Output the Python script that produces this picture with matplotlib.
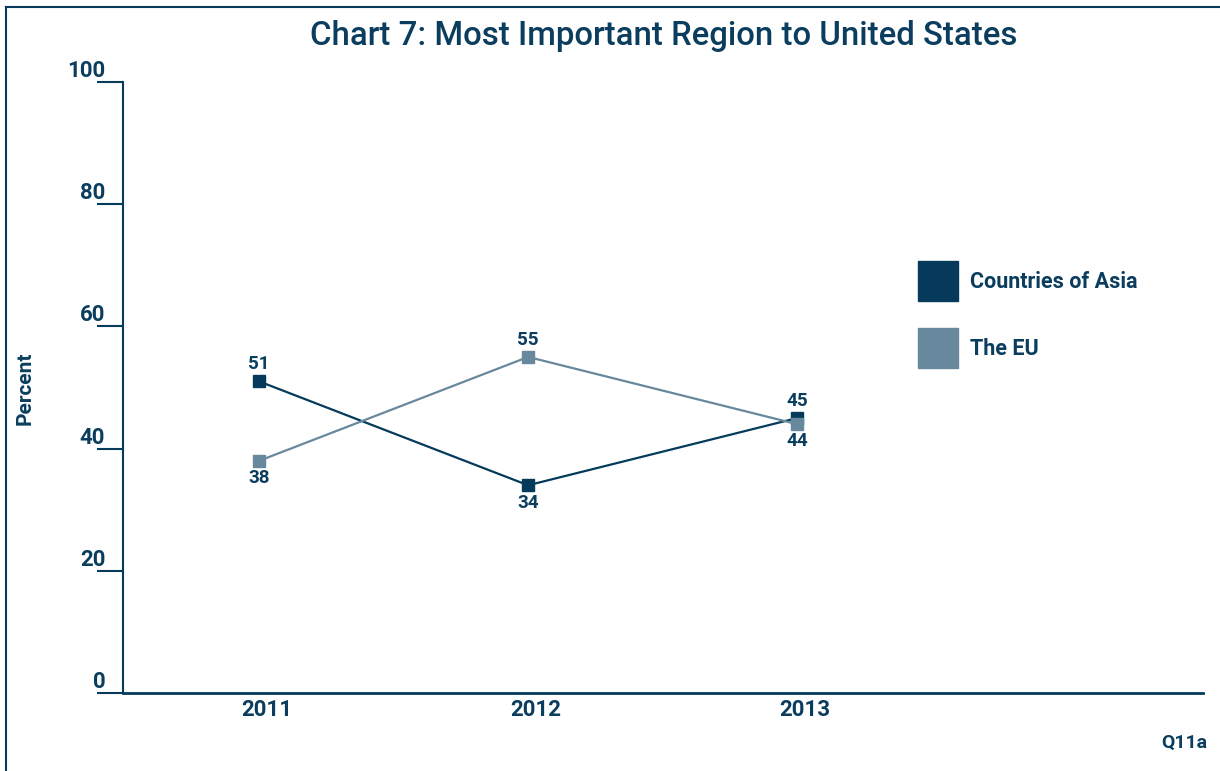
import numpy as np
import matplotlib.pyplot as plt
from matplotlib.lines import Line2D
import matplotlib.transforms as mtrans

plt.rcParams['font.family'] = ['Roboto', 'DejaVu Sans']

years = [2011, 2012, 2013]
asia = [51, 34, 45]
eu = [38, 55, 44]
series_names = ['Countries of Asia', 'The EU']
yticks = [0, 20, 40, 60, 80, 100]

dark = '#053a5a'
light = '#68889d'
txt = '#0b3d5e'

fig = plt.figure(figsize=(12.2, 7.71), dpi=100)
ax = fig.add_axes([123/1220, 1-693/771, 1080/1220, 611/771])

ax.plot(years, asia, color=dark, lw=1.6, marker='s', ms=9, zorder=3)
ax.plot(years, eu, color=light, lw=1.6, marker='s', ms=9, zorder=3)

# labels above the higher point, below the lower one
for x, a, e in zip(years, asia, eu):
    for v, other in ((a, e), (e, a)):
        if v >= other:
            ax.annotate(str(v), (x, v), xytext=(0, 6), textcoords='offset points',
                        ha='center', va='bottom', fontsize=13.5, fontweight='bold', color=txt)
        else:
            ax.annotate(str(v), (x, v), xytext=(0, -6), textcoords='offset points',
                        ha='center', va='top', fontsize=13.5, fontweight='bold', color=txt)

ax.set_xlim(2010.494, 2014.509)
ax.set_ylim(0, 100)
ax.set_xticks(years)
ax.set_xticklabels([str(y) for y in years], fontsize=16, fontweight='bold', color=txt)
ax.tick_params(axis='x', length=0, pad=4)
# year labels sit a little right of the points in the original
shift = mtrans.ScaledTranslation(8/100, 0, fig.dpi_scale_trans)
for lab in ax.get_xticklabels():
    lab.set_transform(lab.get_transform() + shift)
ax.set_yticks(yticks)
ax.set_yticklabels([])
ax.tick_params(axis='y', length=19, width=1.5, color=dark, direction='out')

tr = mtrans.blended_transform_factory(ax.transAxes, ax.transData)
for t in yticks:
    ax.text(-0.0165, t, str(t), transform=tr, ha='right', va='bottom',
            fontsize=16, fontweight='bold', color=txt)

for s in ['top', 'right']:
    ax.spines[s].set_visible(False)
ax.spines['left'].set_color(dark)
ax.spines['left'].set_linewidth(1.5)
ax.spines['bottom'].set_color(dark)
ax.spines['bottom'].set_linewidth(2)

handles = [Line2D([], [], ls='none', marker='s', ms=29, color=c) for c in (dark, light)]
ax.legend(handles, series_names, loc='upper left', bbox_to_anchor=(0.7347, 0.6905),
          frameon=False, labelcolor=txt, handletextpad=0.5, borderpad=0,
          borderaxespad=0, labelspacing=2.1, prop={'weight': 'bold', 'size': 15.5})

fig.text(664/1220, 1-36/771, 'Chart 7: Most Important Region to United States',
         ha='center', va='center', fontsize=23.7, fontweight='medium', color=txt)
fig.text(25/1220, 1-388/771, 'Percent', rotation=90, ha='center', va='center',
         fontsize=15, fontweight='bold', color=txt)
fig.text(1207/1220, 1-743/771, 'Q11a', ha='right', va='center',
         fontsize=14, fontweight='bold', color=txt)

fig.add_artist(Line2D([6/1220, 6/1220], [0, 1-7/771], color=dark, lw=1.5))
fig.add_artist(Line2D([6/1220, 1], [1-7/771, 1-7/771], color=dark, lw=1.5))

fig.savefig('out.png', dpi=100)
